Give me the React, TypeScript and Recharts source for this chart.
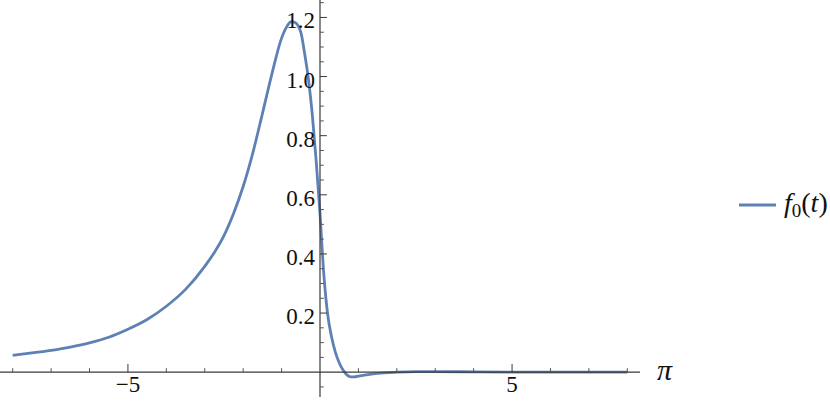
import React from 'react';
import { LineChart, Line, XAxis, YAxis, ReferenceLine, Legend } from 'recharts';

const xValues = [
  -8, -7.5, -7, -6.5, -6, -5.5, -5, -4.5, -4, -3.5, -3, -2.75, -2.5, -2.25, -2, -1.75, -1.5,
  -1.25, -1, -0.85, -0.75, -0.65, -0.5, -0.4, -0.3, -0.2, -0.1, 0, 0.1, 0.2, 0.3, 0.4,
  0.5, 0.6, 0.7, 0.8, 0.9, 1.0, 1.25, 1.5, 2, 2.5, 3, 4, 5, 6, 7, 8,
];
const f0Values = [
  0.057, 0.065, 0.074, 0.085, 0.099, 0.118, 0.145, 0.178, 0.223, 0.28, 0.358, 0.405, 0.462,
  0.537, 0.628, 0.741, 0.874, 1.01, 1.13, 1.172, 1.186, 1.183, 1.15, 1.078, 0.99, 0.87, 0.716,
  0.536, 0.33, 0.195, 0.12, 0.068, 0.032, 0.007, -0.009, -0.016, -0.016, -0.013, -0.008,
  -0.004, 0.0, 0.002, 0.002, 0.001, 0.0, 0.0, 0.0, 0.0,
];

const xMajorTicks = [-5, 5];
const xMajorLabels = ['\u22125', '5'];
const xMinorTicks = [-8, -7, -6, -4, -3, -2, -1, 1, 2, 3, 4, 6, 7, 8];
const yMajorTicks = [0.2, 0.4, 0.6, 0.8, 1.0, 1.2];
const yMajorLabels = ['0.2', '0.4', '0.6', '0.8', '1.0', '1.2'];
const yMinorTicks = [
  -0.05, 0.05, 0.1, 0.15, 0.25, 0.3, 0.35, 0.45, 0.5, 0.55, 0.65, 0.7, 0.75, 0.85, 0.9, 0.95,
  1.05, 1.1, 1.15, 1.25,
];

const data = xValues.map((x, i) => ({ x, f0: f0Values[i] }));

const LINE_COLOR = '#5E81B5';
const AXIS_COLOR = '#3a3a3a';
const TICK_COLOR = '#555';
const FONT =
  "'Liberation Serif', 'Tinos', 'Noto Serif', 'Nimbus Roman', 'Nimbus Roman No9 L', 'FreeSerif', 'Times New Roman', 'Times', 'DejaVu Serif', 'Latin Modern Roman', serif";

const X_DOMAIN: [number, number] = [-8.33, 8.33];
const Y_DOMAIN: [number, number] = [-0.084, 1.259];

const X_MAJOR_LEN = 0.028;
const X_MINOR_LEN = 0.0135;
const Y_MAJOR_LEN = 0.18;
const Y_MINOR_LEN = 0.1;

const yLabel = (text: string) => (props: any) => {
  const vb = props.viewBox || {};
  return (
    <text x={vb.x - 5} y={vb.y + 11} textAnchor="end" style={{ fontFamily: FONT }} fontSize={23} fill="#111">
      {text}
    </text>
  );
};

const xLabel = (text: string) => (props: any) => {
  const vb = props.viewBox || {};
  return (
    <text
      x={vb.x + (vb.width || 0) / 2}
      y={vb.y + (vb.height || 0) + 20}
      textAnchor="middle"
      style={{ fontFamily: FONT }}
      fontSize={23}
      fill="#111"
    >
      {text}
    </text>
  );
};

const piLabel = (props: any) => {
  const vb = props.viewBox || {};
  return (
    <text
      x={vb.x + vb.width + 17}
      y={vb.y + 8}
      textAnchor="start"
      style={{ fontFamily: FONT, fontStyle: 'italic' }}
      fontSize={30}
      fill="#111"
    >
      π
    </text>
  );
};

const LegendContent = () => (
  <div style={{ display: 'flex', alignItems: 'center', whiteSpace: 'nowrap' }}>
    <svg width={37} height={6} style={{ display: 'block' }}>
      <line x1={0} y1={3} x2={37} y2={3} stroke={LINE_COLOR} strokeWidth={3} />
    </svg>
    <span style={{ marginLeft: 8, fontFamily: FONT, fontSize: 28, color: '#111', lineHeight: '34px' }}>
      <span style={{ fontStyle: 'italic' }}>f</span>
      <span style={{ fontSize: 19, position: 'relative', top: 5 }}>0</span>
      <span>(</span>
      <span style={{ fontStyle: 'italic' }}>t</span>
      <span>)</span>
    </span>
  </div>
);

export default function App() {
  return (
    <div style={{ position: 'absolute', left: 0, top: 0, width: 830, height: 407, background: '#fff', fontFamily: FONT }}>
      <LineChart width={830} height={407} data={data} margin={{ top: 0, right: 190, bottom: 10, left: 0 }}>
        <XAxis type="number" dataKey="x" domain={X_DOMAIN} allowDataOverflow hide />
        <YAxis type="number" domain={Y_DOMAIN} allowDataOverflow hide width={0} />
        <Line
          type="monotone"
          dataKey="f0"
          stroke={LINE_COLOR}
          strokeWidth={2.8}
          dot={false}
          activeDot={false}
          isAnimationActive={false}
        />
        <ReferenceLine y={0} stroke={AXIS_COLOR} strokeWidth={1.2} label={piLabel} />
        <ReferenceLine x={0} stroke={AXIS_COLOR} strokeWidth={1.2} />
        {xMinorTicks.map((t) => (
          <ReferenceLine
            key={'xm' + t}
            segment={[{ x: t, y: 0 }, { x: t, y: X_MINOR_LEN }]}
            stroke={TICK_COLOR}
            strokeWidth={1}
          />
        ))}
        {xMajorTicks.map((t, i) => (
          <ReferenceLine
            key={'xM' + t}
            segment={[{ x: t, y: 0 }, { x: t, y: X_MAJOR_LEN }]}
            stroke={AXIS_COLOR}
            strokeWidth={1}
            label={xLabel(xMajorLabels[i])}
          />
        ))}
        {yMinorTicks.map((t) => (
          <ReferenceLine
            key={'ym' + t}
            segment={[{ x: 0, y: t }, { x: Y_MINOR_LEN, y: t }]}
            stroke={TICK_COLOR}
            strokeWidth={1}
          />
        ))}
        {yMajorTicks.map((t, i) => (
          <ReferenceLine
            key={'yM' + t}
            segment={[{ x: 0, y: t }, { x: Y_MAJOR_LEN, y: t }]}
            stroke={AXIS_COLOR}
            strokeWidth={1}
            label={yLabel(yMajorLabels[i])}
          />
        ))}
        <Legend
          layout="vertical"
          align="center"
          verticalAlign="middle"
          content={LegendContent}
          wrapperStyle={{ left: 739, top: 186, width: 'auto' }}
        />
      </LineChart>
    </div>
  );
}
